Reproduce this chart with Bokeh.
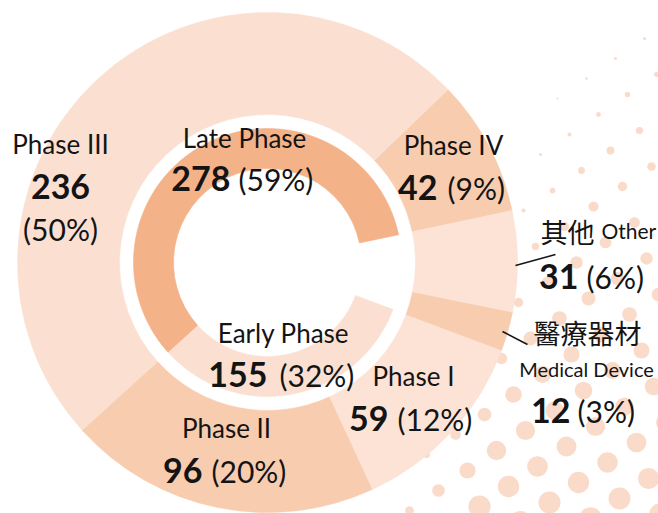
import math
from bokeh.plotting import figure
from bokeh.models import ColumnDataSource, Range1d
from bokeh.core.properties import value
from bokeh.embed import file_html
from bokeh.resources import INLINE

# ---------------- data ----------------
outer_labels = ["Phase IV", "Phase III", "Phase II", "Phase I", "Medical Device", "Other"]
outer_cn = ["", "", "", "", "醫療器材", "其他"]
outer_values = [42, 236, 96, 59, 12, 31]
outer_pcts = [9, 50, 20, 12, 3, 6]

inner_labels = ["Late Phase", "Early Phase"]
inner_values = [278, 155]
inner_pcts = [59, 32]

outer_colors = ["#F8CCAF", "#FBE0D1", "#F8CCAF", "#FCE3D6", "#F8CCAF", "#FCE3D6"]
inner_colors = ["#F4B289", "#FBE0D1"]

# ---------------- layout ----------------
W, H = 658, 513
IMG_H = 513


def Y(y_img):
    return IMG_H - y_img


CX, CY = 267, Y(262)
R_OUT, R_OUT_IN = 250, 148
R_IN, R_IN_IN = 134, 94
START = math.radians(12.0)

p = figure(width=W, height=H, output_backend="svg", toolbar_location=None,
           x_range=Range1d(0, W), y_range=Range1d(Y(H), Y(0)),
           min_border=0, background_fill_color="white", border_fill_color="white")
p.axis.visible = False
p.grid.visible = False
p.outline_line_color = None

# ---------------- decorative halftone dots ----------------
dx, dy, dr = [], [], []
ox, oy = 607, 462
ax_, ay_ = 41, 16
bx_, by_ = -29, 20
for i in range(-16, 16):
    for j in range(-20, 20):
        x = ox + i * ax_ + j * bx_
        y = oy + i * ay_ + j * by_
        if x < 300 or x > 675 or y < -5 or y > 530:
            continue
        x0 = 560 - 0.38 * y
        f = min(max((x - x0) / 110.0, 0.0), 1.0)
        r = min(f * (1 + y / 50.0), 11.5)
        if r < 0.9:
            continue
        dx.append(x)
        dy.append(Y(y))
        dr.append(r)
p.circle(x=dx, y=dy, radius=dr, fill_color="#F9D4C0", fill_alpha=0.85, line_color=None)

# ---------------- rings ----------------
total = sum(outer_values)


def wedges(values, colors, r0, r1):
    starts, ends = [], []
    a = START
    for v in values:
        b = a + 2 * math.pi * v / total
        starts.append(a)
        ends.append(b)
        a = b
    src = ColumnDataSource(dict(start=starts, end=ends, color=colors))
    p.annular_wedge(x=CX, y=CY, inner_radius=r0, outer_radius=r1,
                    start_angle="start", end_angle="end", direction="anticlock",
                    fill_color="color", line_color="color", line_width=0.6, source=src)


wedges(outer_values, outer_colors, R_OUT_IN, R_OUT)
wedges(inner_values, inner_colors, R_IN_IN, R_IN)

# ---------------- labels ----------------
FONT = "Lato"
CJK = "Noto Sans CJK TC"
INK = "#141414"
S_LBL, S_NUM, S_PCT = 26, 34, 30
OFF_LBL, OFF_NUM = -10, -12


def put(txt, x, y_img, size, bold=False, align="center", font=FONT):
    p.text(x=[x], y=[Y(y_img)], text=[txt], text_font=value(font),
           text_font_size=f"{size}px", text_font_style="bold" if bold else "normal",
           text_align=align, text_baseline="alphabetic", text_color=INK)


def lbl(txt, x, y_img, size=S_LBL, align="center", font=FONT):
    put(txt, x, y_img + OFF_LBL, size, align=align, font=font)


def num_pct(v, pc, x_split, y_img, gap=8):
    put(str(v), x_split, y_img + OFF_NUM, S_NUM, bold=True, align="right")
    put(f"({pc}%)", x_split + gap, y_img + OFF_NUM, S_PCT, align="left")


o = dict(zip(outer_labels, zip(outer_values, outer_pcts, outer_cn)))
ii = dict(zip(inner_labels, zip(inner_values, inner_pcts)))

# Phase III (stacked)
lbl("Phase III", 60, 153)
put(str(o["Phase III"][0]), 60, 198 + OFF_NUM, S_NUM, bold=True)
put(f"({o['Phase III'][1]}%)", 60, 240 + OFF_NUM, S_PCT)

# Late Phase
lbl("Late Phase", 244, 147)
num_pct(ii["Late Phase"][0], ii["Late Phase"][1], 230, 190)

# Phase IV
lbl("Phase IV", 453, 154)
num_pct(o["Phase IV"][0], o["Phase IV"][1], 437, 199, gap=10)

# Other
lbl(o["Other"][2], 540, 241, 27, align="left", font=CJK)
lbl("Other", 601, 240, 21, align="left")
num_pct(o["Other"][0], o["Other"][1], 578, 288)
p.segment(x0=[515], y0=[Y(265)], x1=[555], y1=[Y(254)], line_color=INK, line_width=1.5)

# Medical Device
lbl(o["Medical Device"][2], 533, 342, 27, align="left", font=CJK)
p.segment(x0=[502], y0=[Y(331)], x1=[527], y1=[Y(344)], line_color=INK, line_width=1.5)
lbl("Medical Device", 586, 378, 20)
num_pct(o["Medical Device"][0], o["Medical Device"][1], 570, 422, gap=7)

# Phase I
lbl("Phase I", 413, 385)
num_pct(o["Phase I"][0], o["Phase I"][1], 388, 430, gap=9)

# Early Phase
lbl("Early Phase", 283, 342)
num_pct(ii["Early Phase"][0], ii["Early Phase"][1], 267, 386, gap=12)

# Phase II
lbl("Phase II", 226, 437)
num_pct(o["Phase II"][0], o["Phase II"][1], 202, 482, gap=9)

open("out.html", "w").write(file_html(p, INLINE))
